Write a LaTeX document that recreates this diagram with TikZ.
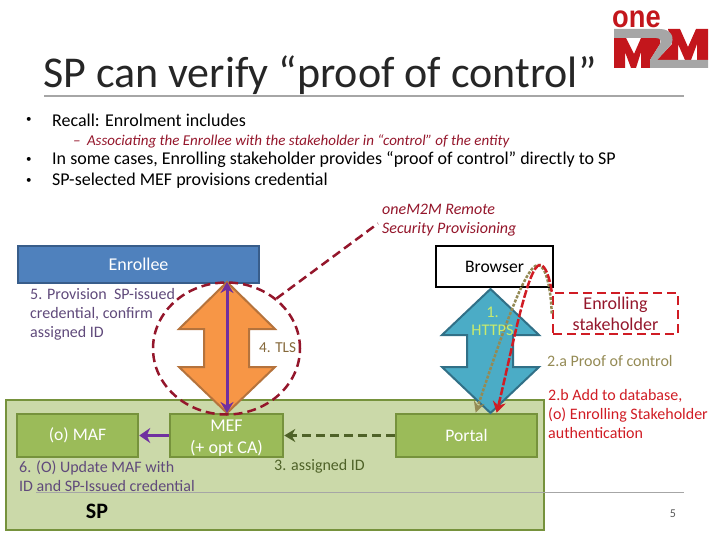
\documentclass[tikz,border=0pt]{standalone}
\usepackage{fontspec}
\setmainfont{Carlito}
\newfontfamily\logofont{Liberation Sans}
\usetikzlibrary{shapes.geometric,calc,arrows.meta}
\definecolor{spfill}{HTML}{CBD9A9}
\definecolor{spline}{HTML}{76923C}
\definecolor{boxfill}{HTML}{9BBB59}
\definecolor{darkolive}{HTML}{4F6228}
\definecolor{mauve}{HTML}{604A7B}
\definecolor{violet}{HTML}{7030A0}
\definecolor{khaki}{HTML}{948A54}
\definecolor{wine}{HTML}{94162B}
\definecolor{alarm}{HTML}{D01C24}
\definecolor{logored}{HTML}{C3161C}
\definecolor{logogray}{HTML}{A6A6A6}
\definecolor{enrolfill}{HTML}{4F81BD}
\definecolor{enrolline}{HTML}{385D8A}
\definecolor{orangefill}{HTML}{F79646}
\definecolor{orangeline}{HTML}{B5733C}
\definecolor{tealfill}{HTML}{4BACC6}
\definecolor{tealline}{HTML}{317087}
\definecolor{tlsbrown}{HTML}{85683A}
\definecolor{limetext}{HTML}{C8EB6E}
\tikzset{
	greenbox/.style={draw=spline, line width=2.5pt, fill=boxfill, text=white, minimum width=#1, minimum height=43pt, inner sep=0pt, align=center, font=\fontsize{17.6}{21}\selectfont},
	lbl/.style={anchor=west, inner sep=0pt, align=left, font=\fontsize{16}{19}\selectfont},
	bullet/.style={anchor=west, inner sep=0pt, font=\fontsize{11}{16}\selectfont},
	body/.style={anchor=west, inner sep=0pt, font=\fontsize{18}{20}\selectfont},
	longdash/.style={dash pattern=on 9pt off 5pt}
}
\begin{document}
\begin{tikzpicture}[x=1pt,y=-1pt]
	\useasboundingbox (0,0) rectangle (720,540);
	% header
	\node [anchor=west, inner sep=0pt, font=\fontsize{44}{50}\selectfont, text=black!85] (title) at (43,75) {SP can verify “proof of control”};
	\draw [logogray, line width=1.5pt] (44,96) -- (684,96);
	% logo
	\node [anchor=base west, inner sep=0pt, text=logored, xscale=0.88, font=\logofont\bfseries\fontsize{31}{31}\selectfont] (logoone) at (612,28) {one};
	\fill [logored] (614,38) -- (626,38) -- (634,54) -- (641,38) -- (660,38) -- (660,44) -- (650,60) -- (650,68) -- (641,68) -- (641,52) -- (636,68) -- (631,68) -- (625,52) -- (625,68) -- (614,68) -- cycle;
	\fill [logored] (668,29) -- (680,29) -- (688,47) -- (696,29) -- (708,29) -- (708,60) -- (697,60) -- (697,44) -- (691,60) -- (685,60) -- (678,44) -- (678,60) -- (657,60) -- (672,44) -- cycle;
	\fill [logogray] (614,29) -- (660,29) .. controls (671,29) and (676,38) .. (670,46) -- (657,60) -- (708,60) -- (708,68) -- (650,68) -- (650,60) -- (660,44) .. controls (662,41) and (660,38) .. (656,38) -- (614,38) -- cycle;
	% bullets
	\node [bullet] (b1) at (26,120) {•};
	\node [bullet] (b2) at (26,160) {•};
	\node [bullet] (b3) at (26,181) {•};
	\node [body] (recall) at (52,120) {Recall: Enrolment includes};
	\node [anchor=west, inner sep=0pt, text=wine, font=\fontsize{15}{16}\selectfont\itshape] (assoc) at (73,141) {– \hspace{3pt}Associating the Enrollee with the stakeholder in “control” of the entity};
	\node [body] (cases) at (52,160) {In some cases, Enrolling stakeholder provides “proof of control” directly to SP};
	\node [body] (selected) at (52,181) {SP-selected MEF provisions credential};
	% SP domain
	\draw [spline, line width=2.5pt, fill=spfill] (6,400) rectangle (544,530);
	\draw [logogray, line width=1pt] (36,492) -- (684,492);
	% boxes
	\node [draw=enrolline, line width=2.5pt, fill=enrolfill, text=white, minimum width=241pt, minimum height=37pt, inner sep=0pt, font=\fontsize{18}{21}\selectfont] (enrollee) at (138.5,264.5) {Enrollee};
	\node [draw, line width=2.5pt, fill=white, minimum width=117pt, minimum height=41pt, inner sep=0pt, font=\fontsize{17.6}{21}\selectfont] (browser) at (494.5,266.5) {Browser};
	\node [draw=alarm, longdash, line width=2.5pt, text=wine, minimum width=125pt, minimum height=41pt, inner sep=0pt, align=center, font=\fontsize{18}{21}\selectfont] (stakeholder) at (615.5,313.5) {Enrolling\\stakeholder};
	\node [greenbox=121pt] (maf) at (77.5,435.5) {(o) MAF};
	\node [greenbox=113pt, font=\fontsize{18}{22}\selectfont] (mef) at (226.5,435.5) {\rule{0pt}{17pt}MEF\\(+ opt CA)};
	\node [greenbox=141pt] (portal) at (466.5,435.5) {Portal};
	% big arrows
	\coordinate (tlstop) at (227,282);
	\coordinate (tlsbottom) at (227,413);
	\draw [orangeline, fill=orangefill, line width=2pt] (tlstop) -- (275,329) -- (249,329) -- (249,367) -- (275,367) -- (tlsbottom) -- (179,367) -- (204,367) -- (204,329) -- (179,329) -- cycle;
	\draw [tealline, fill=tealfill, line width=2pt] (490.5,289) -- (539,335) -- (513,335) -- (513,367) -- (539,367) -- (490.5,413) -- (442,367) -- (467,367) -- (467,335) -- (442,335) -- cycle;
	% tls scope
	\node [ellipse, draw=wine, longdash, line width=2.5pt, minimum width=147pt, minimum height=132pt, inner sep=0pt] (tlsscope) at (226.5,348.5) {};
	\node [lbl, text=wine, font=\fontsize{16}{19}\selectfont\itshape] (provnote) at (382,220.5) {oneM2M Remote\\Security Provisioning};
	\draw [wine, longdash, line width=2.5pt, shorten >=5pt] (tlsscope.45) -- (provnote.west);
	% flows
	\draw [violet, line width=3pt, {Stealth[length=11pt,width=13pt]}-{Stealth[length=11pt,width=13pt]}] (tlstop) -- (tlsbottom);
	\draw [violet, line width=3pt, -{Stealth[length=11pt,width=15pt]}] (mef.west) -- (maf.east);
	\draw [darkolive, longdash, line width=3pt, -{Stealth[length=11pt,width=13pt]}] (portal.west) -- (mef.east);
	\draw [khaki, dash pattern=on 3pt off 1.5pt, line width=2.5pt, -{Stealth[length=11pt,width=11pt]}] (stakeholder.west) .. controls (551,290) and (546,265) .. (538,265) .. controls (525,265) and (500,340) .. (portal.68);
	\draw [alarm, dash pattern=on 8pt off 2pt, line width=2.5pt, -{Stealth[length=11pt,width=13pt]}] (stakeholder.north west) .. controls (550,280) and (546,265) .. (540,265) .. controls (528,265) and (513,345) .. (portal.37);
	% labels
	\node [lbl, text=mauve] (provision) at (30,314) {5. Provision \ SP-issued\\credential, confirm\\assigned ID};
	\node [anchor=west, inner sep=0pt, text=tlsbrown, font=\fontsize{15.2}{16}\selectfont] (tlslabel) at (259,348) {4. TLS};
	\node [align=center, inner sep=0pt, text=limetext, font=\fontsize{16.3}{18}\selectfont] (httpslabel) at (492.5,321) {1.\\HTTPS};
	\node [lbl, text=khaki] (prooflabel) at (547,361) {2.a Proof of control};
	\node [lbl, text=alarm] (addlabel) at (548,414) {2.b Add to database,\\(o) Enrolling Stakeholder\\authentication};
	\node [lbl, text=darkolive] (assignedlabel) at (274,466) {3. assigned ID};
	\node [lbl, text=mauve] (updatelabel) at (19,476) {6. (O) Update MAF with\\ID and SP-Issued credential};
	\node [inner sep=0pt, font=\fontsize{22}{24}\selectfont\bfseries] (splabel) at (97,511) {SP};
	\node [inner sep=0pt, text=black!65, font=\fontsize{12}{14}\selectfont] (pagenum) at (673,514) {5};
\end{tikzpicture}
\end{document}
